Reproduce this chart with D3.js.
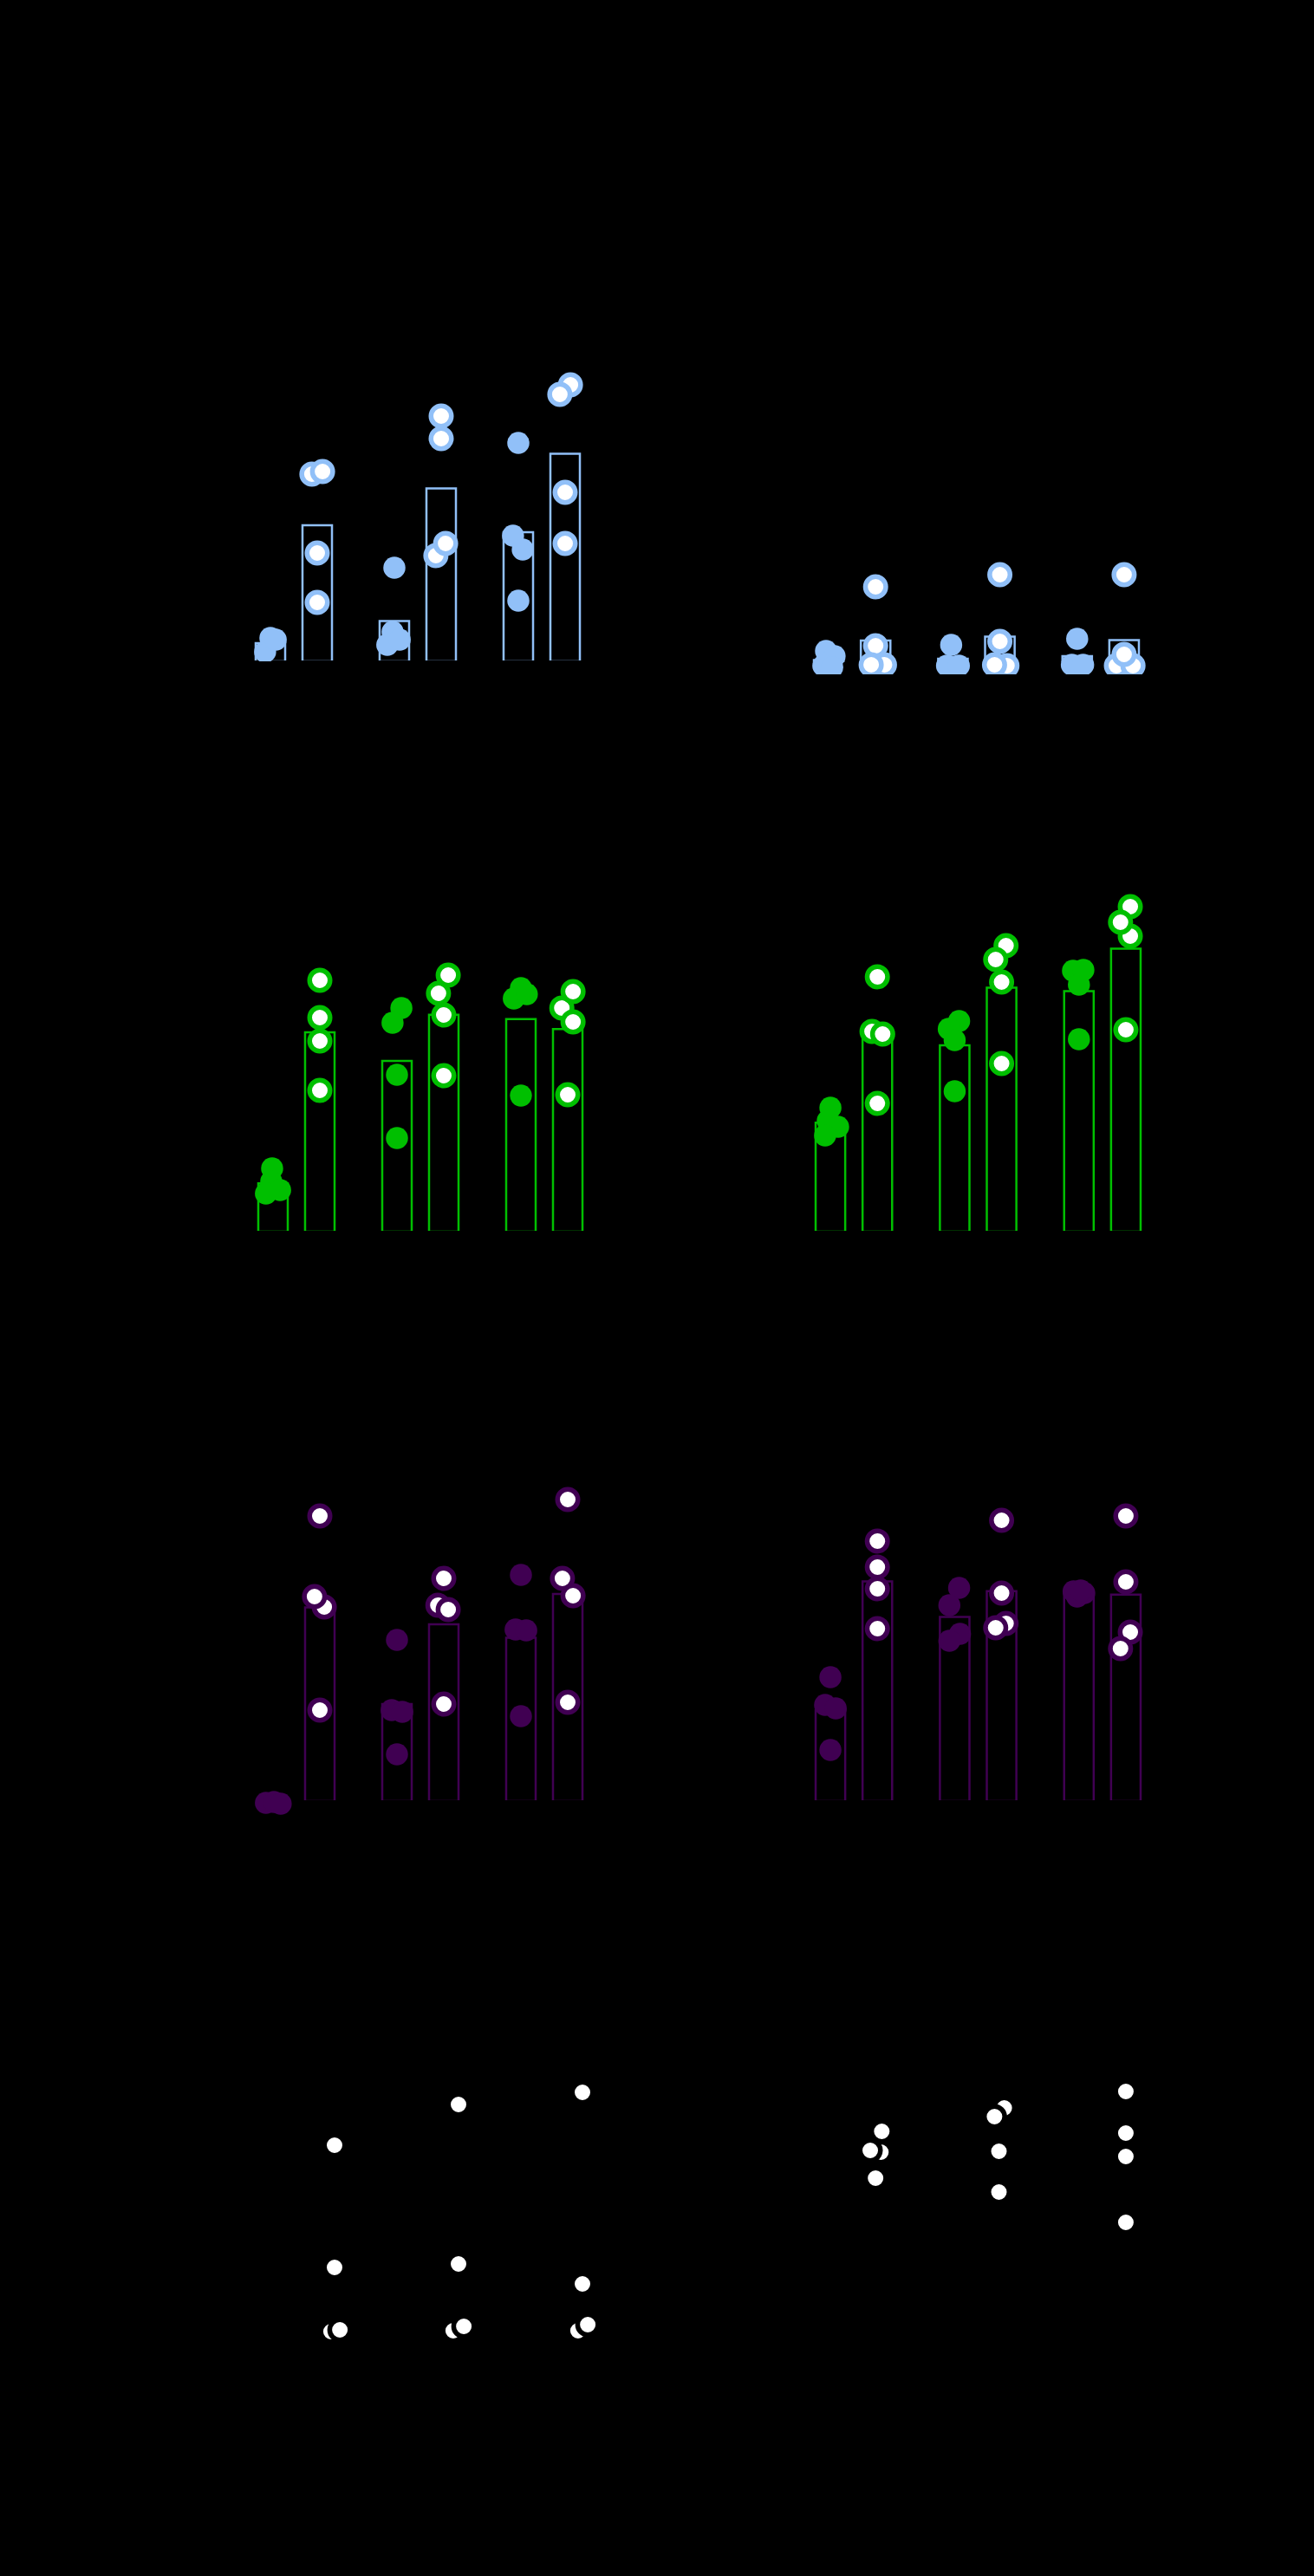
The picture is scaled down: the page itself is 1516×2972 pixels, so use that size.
<!DOCTYPE html>
<html><head><meta charset="utf-8">
<script src="https://cdn.jsdelivr.net/npm/d3@7"></script>
<style>html,body{margin:0;padding:0;background:#000}</style>
</head><body>
<script>
// ---- categories ----
const groups = ["G1", "G2", "G3"];
const series = ["filled", "open"];

// ---- replicate values: each bar = list of [value, jitter (fraction of bar width)] ----
// bar order: G1-filled, G1-open, G2-filled, G2-open, G3-filled, G3-open
const blueA = [
  [[2.75,-0.18],[6.75,0],[6.25,0.18]],
  [[54,-0.18],[54.75,0.18],[31.25,0],[17,0]],
  [[27,0],[8.5,-0.06],[4.75,-0.24],[6.25,0.18]],
  [[70.75,0],[64.25,0],[30.5,-0.18],[34,0.15]],
  [[63,0],[36.25,-0.18],[32.25,0.15],[17.5,0]],
  [[79.75,0.18],[77,-0.18],[48.75,0],[34,0]]
];
const blueB = [
  [[3.5,-0.09],[2,0.2],[-0.75,-0.18],[-1.25,0.12]],
  [[22,0],[5,0],[-0.5,0.3],[-0.5,-0.15]],
  [[5.25,-0.06],[-0.75,-0.2],[-0.75,0.2]],
  [[25.5,0],[6.25,0],[-0.75,0.24],[-0.5,-0.18]],
  [[7,0],[-0.5,-0.18],[-0.5,0.2]],
  [[25.5,0],[-0.75,-0.26],[-0.75,0.3],[2.5,0]]
];
const greenC = [
  [[18.25,-0.03],[14.5,-0.06],[11,-0.24],[12,0.24]],
  [[72.5,0],[61.75,0],[55,0],[40.75,0]],
  [[64.5,0.15],[60.25,-0.15],[45.25,0],[27,0]],
  [[74,0.15],[68.75,-0.18],[62.5,0],[45,0]],
  [[70.25,0],[67.25,-0.24],[68.5,0.2],[39.25,0]],
  [[64.5,-0.2],[69.25,0.18],[60.5,0.18],[39.5,0]]
];
const greenD = [
  [[35.75,0],[32,-0.09],[30.25,0.26],[27.75,-0.18]],
  [[73.5,0],[57.75,-0.18],[57,0.18],[37,0]],
  [[60.75,0.15],[58.5,-0.2],[55.25,0],[40.5,0]],
  [[82.5,0.15],[78.5,-0.2],[72,0],[48.5,0]],
  [[75.25,-0.2],[75.5,0.15],[71.25,0],[55.5,0]],
  [[85.25,0.15],[93.75,0.15],[89.25,-0.18],[58.25,0]]
];
const purpleE = [
  [[-0.5,-0.24],[-0.25,0.03],[-0.75,0.26]],
  [[82.25,0],[56,0.15],[59,-0.18],[26.25,0]],
  [[46.5,0],[26.25,-0.18],[25.75,0.18],[13.5,0]],
  [[64.25,0],[56.5,-0.2],[55.25,0.15],[28,0]],
  [[65.25,0],[49.5,-0.18],[49.25,0.18],[24.5,0]],
  [[87,0],[64.25,-0.18],[59.25,0.18],[28.5,0]]
];
const purpleF = [
  [[35.75,0],[27.75,-0.18],[26.75,0.18],[14.75,0]],
  [[75,0],[67.5,0],[61.25,0],[49.75,0]],
  [[61.5,0.15],[56.5,-0.18],[48.25,0.18],[46.25,-0.18]],
  [[81,0],[60,0],[51.25,0.15],[50,-0.2]],
  [[60.5,-0.18],[60,0.18],[59,-0.06],[60.75,0.06]],
  [[82.25,0],[63.25,0],[48.75,0.15],[44,-0.18]]
];
// bottom row: only the open series is visible (white points)
const whiteG = [
  [], [[65,0],[29.75,0],[11.25,-0.12],[11.75,0.18]],
  [], [[76.75,0],[30.75,0],[11.5,-0.18],[12.75,0.18]],
  [], [[80.25,0],[25,0],[11.5,-0.15],[13.25,0.18]]
];
const whiteH = [
  [], [[69,0.15],[63,0.12],[63.5,-0.24],[55.5,-0.06]],
  [], [[75.75,0.09],[73.25,-0.24],[63.25,-0.09],[51.5,-0.09]],
  [], [[80.5,0],[68.5,0],[61.75,0],[42.75,0]]
];

// ---- drawing ----
const W = 1516, H = 2972;
const svg = d3.select("body").append("svg").attr("width", W).attr("height", H);
svg.append("rect").attr("width", W).attr("height", H).attr("fill", "#000");

const panels = [
  {data: blueA,   color: "#91c0f8", xr: [275, 689],  base: 763,  clipPad: 0,   bars: true},
  {data: blueB,   color: "#91c0f8", xr: [919, 1334], base: 765,  clipPad: 13,  bars: true},
  {data: greenC,  color: "#00bf00", xr: [278, 692],  base: 1421, clipPad: 200, bars: true},
  {data: greenD,  color: "#00bf00", xr: [921, 1336], base: 1421, clipPad: 200, bars: true},
  {data: purpleE, color: "#400052", xr: [278, 692],  base: 2078, clipPad: 200, bars: true},
  {data: purpleF, color: "#400052", xr: [921, 1336], base: 2078, clipPad: 200, bars: true},
  {data: whiteG,  color: "#000000", xr: [295, 709],  base: 2735, clipPad: 200, bars: false},
  {data: whiteH,  color: "#000000", xr: [921, 1336], base: 2735, clipPad: 200, bars: false}
];

panels.forEach((p, pi) => {
  const x0 = d3.scaleBand().domain(groups).range(p.xr).paddingInner(0.105).paddingOuter(0);
  const x1 = d3.scaleBand().domain(series).range([0, x0.bandwidth()]).padding(0.37);
  const y = d3.scaleLinear().domain([0, 100]).range([p.base, p.base - 400]);
  const bw = x1.bandwidth();
  const cx = i => x0(groups[Math.floor(i / 2)]) + x1(series[i % 2]) + bw / 2;

  const id = "clip" + pi;
  svg.append("clipPath").attr("id", id).append("rect")
    .attr("x", 0).attr("y", p.base - 620).attr("width", W).attr("height", 620 + p.clipPad);

  const g = svg.append("g");

  if (p.bars) {
    g.append("g").attr("clip-path", `url(#${id})`)
      .selectAll("rect").data(p.data).join("rect")
      .attr("x", (d, i) => cx(i) - bw / 2)
      .attr("width", bw)
      .attr("y", d => Math.min(y(d3.mean(d, e => e[0])), y(0)))
      .attr("height", d => Math.abs(y(0) - y(d3.mean(d, e => e[0]))))
      .attr("fill", "none").attr("stroke", p.color).attr("stroke-width", 2.5);
  }

  // axes (black on black, as in the reference)
  g.append("g").attr("transform", `translate(0,${p.base})`)
    .call(d3.axisBottom(x0).tickSize(0).tickFormat(""))
    .call(s => s.select(".domain").attr("stroke", "#000").attr("stroke-width", 3));
  g.append("g").attr("transform", `translate(${p.xr[0] - 20},0)`)
    .call(d3.axisLeft(y).ticks(5).tickFormat(""))
    .attr("color", "#000");

  const pts = [];
  p.data.forEach((arr, i) => arr.forEach(([v, j]) => pts.push({i, v, j})));
  g.append("g").attr("clip-path", `url(#${id})`)
    .selectAll("circle").data(pts).join("circle")
    .attr("cx", d => cx(d.i) + d.j * bw)
    .attr("cy", d => y(d.v))
    .attr("r", d => d.i % 2 === 0 ? 12.75 : 11.75)
    .attr("fill", d => d.i % 2 === 0 ? p.color : "#fff")
    .attr("stroke", d => d.i % 2 === 0 ? "none" : p.color)
    .attr("stroke-width", 5.5);
});
</script>
</body></html>
